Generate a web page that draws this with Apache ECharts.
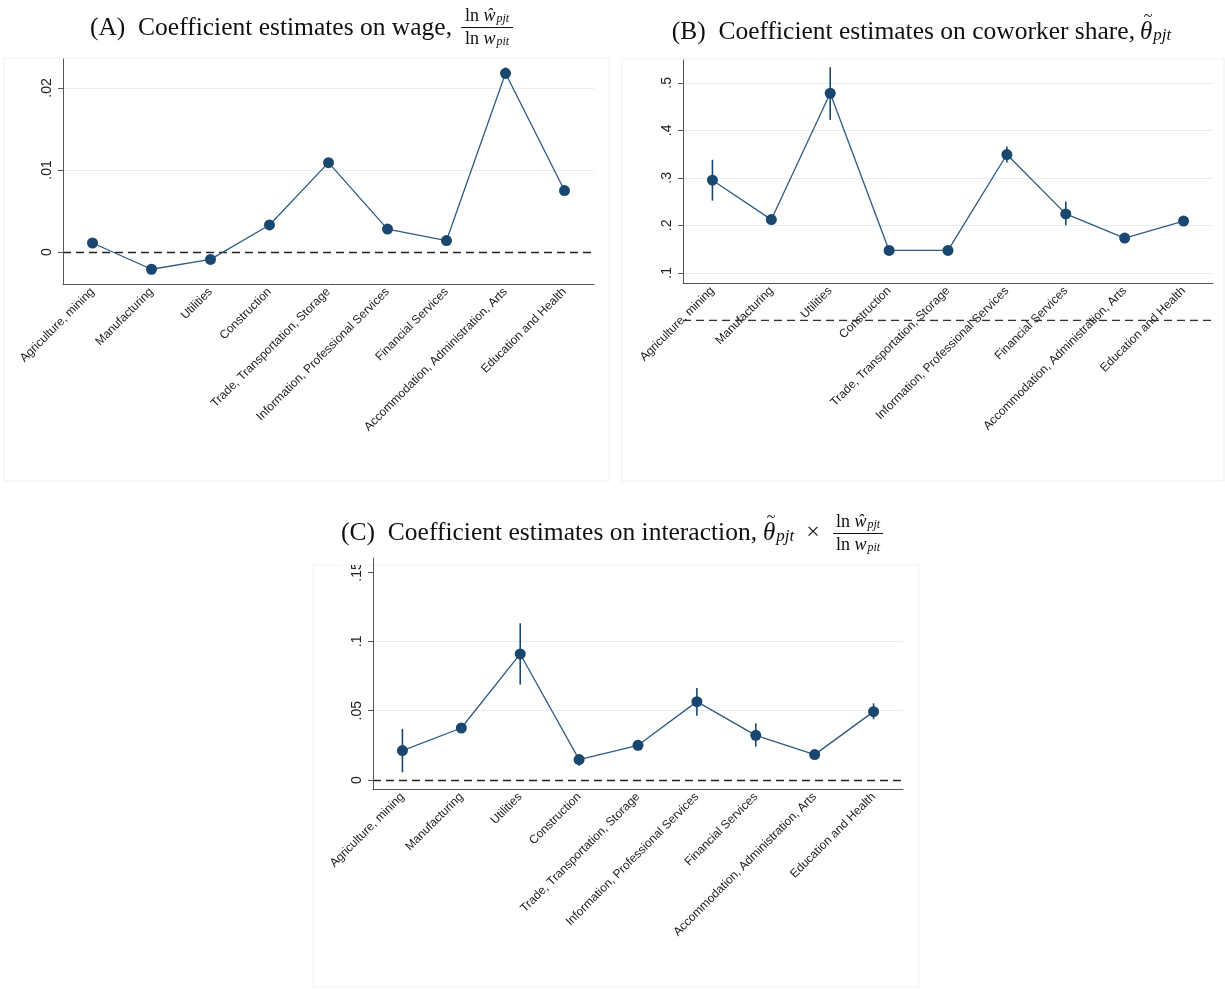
<!DOCTYPE html>
<html>
<head>
<meta charset="utf-8">
<script src="https://cdn.jsdelivr.net/npm/echarts@6/dist/echarts.min.js"></script>
<style>
html,body{margin:0;padding:0;background:#fff;}
#chart{width:1225px;height:990px;}
</style>
</head>
<body>
<div id="chart"></div>
<script>
// ---------- data ----------
const categories = ['Agriculture, mining', 'Manufacturing', 'Utilities', 'Construction',
  'Trade, Transportation, Storage', 'Information, Professional Services', 'Financial Services',
  'Accommodation, Administration, Arts', 'Education and Health'];

const wageEst = [0.0011, -0.0021, -0.0009, 0.0033, 0.0109, 0.0028, 0.0014, 0.0218, 0.0075];
const wageLo  = [0.0009, -0.0023, -0.0011, 0.0031, 0.0107, 0.0026, 0.0012, 0.0211, 0.0073];
const wageHi  = [0.0013, -0.0019, -0.0007, 0.0035, 0.0111, 0.0030, 0.0016, 0.0225, 0.0077];

const shareEst = [0.295, 0.212, 0.478, 0.147, 0.147, 0.349, 0.224, 0.173, 0.209];
const shareLo  = [0.252, 0.203, 0.422, 0.143, 0.143, 0.332, 0.200, 0.166, 0.200];
const shareHi  = [0.338, 0.220, 0.533, 0.151, 0.151, 0.366, 0.250, 0.180, 0.219];

const interEst = [0.0212, 0.0375, 0.0909, 0.0147, 0.0250, 0.0565, 0.0322, 0.0183, 0.0493];
const interLo  = [0.0055, 0.0340, 0.0688, 0.0103, 0.0226, 0.0464, 0.0240, 0.0159, 0.0438];
const interHi  = [0.0368, 0.0400, 0.1130, 0.0188, 0.0274, 0.0663, 0.0409, 0.0207, 0.0553];

const ticksA = [0, 0.01, 0.02];
const tickLabelsA = ['0', '.01', '.02'];
const gridA = [0.01, 0.02];
const ticksB = [0.1, 0.2, 0.3, 0.4, 0.5];
const tickLabelsB = ['.1', '.2', '.3', '.4', '.5'];
const gridB = [0.1, 0.2, 0.3, 0.4, 0.5];
const ticksC = [0, 0.05, 0.1, 0.15];
const tickLabelsC = ['0', '.05', '.1', '.15'];
const gridC = [0.05, 0.1];

const titleA = '(A)  Coefficient estimates on wage,';
const titleB = '(B)  Coefficient estimates on coworker share,';
const titleC = '(C)  Coefficient estimates on interaction,';

// ---------- styles ----------
const NAVY = '#1a476f';
const LINE = '#2f5a82';
const AXIS = '#555';
const GRIDC = '#e4eef0';
const SANS = '"Liberation Sans", Arial, sans-serif';
const SERIF = '"Liberation Serif", "Times New Roman", serif';

function labelFn(vals, labs) {
  return v => { const i = vals.findIndex(t => Math.abs(t - v) < 1e-9); return i >= 0 ? labs[i] : ''; };
}

function xAxisFor(gi) {
  return {
    type: 'category', gridIndex: gi, data: categories, boundaryGap: true,
    axisLine: { onZero: false, lineStyle: { color: AXIS, width: 1 } },
    axisTick: { alignWithLabel: true, length: 5, lineStyle: { color: AXIS } },
    axisLabel: { rotate: 45, interval: 0, fontFamily: SANS, fontSize: 12, color: '#222', margin: 6 },
    splitLine: { show: false }
  };
}
function yAxisFor(gi, min, max, ticks, labs) {
  return {
    type: 'value', gridIndex: gi, min: min, max: max,
    axisLine: { show: true, onZero: false, lineStyle: { color: AXIS, width: 1 } },
    axisTick: { show: true, length: 5, customValues: ticks, lineStyle: { color: AXIS } },
    axisLabel: { customValues: ticks, rotate: 90, fontFamily: SANS, fontSize: 14, color: '#222', margin: 9,
      formatter: labelFn(ticks, labs) },
    splitLine: { show: false }
  };
}
function errSeries(gi, lo, hi, grids, zeroLine) {
  const data = lo.map((l, i) => [i, l, hi[i]]);
  const ml = grids.map(v => ({ yAxis: v, lineStyle: { color: GRIDC, width: 1, type: 'solid' } }));
  if (zeroLine) ml.push({ yAxis: 0, lineStyle: { color: '#222', width: 1.4, type: [8, 5] } });
  return {
    type: 'custom', xAxisIndex: gi, yAxisIndex: gi, data: data, z: 1, silent: true,
    renderItem: (params, api) => {
      const x = api.value(0);
      const a = api.coord([x, api.value(1)]);
      const b = api.coord([x, api.value(2)]);
      return { type: 'line', shape: { x1: a[0], y1: a[1], x2: b[0], y2: b[1] },
        style: { stroke: NAVY, lineWidth: 1.6 } };
    },
    markLine: { silent: true, symbol: ['none', 'none'], label: { show: false }, animation: false, data: ml, z: 0 }
  };
}
function estSeries(gi, est) {
  return {
    type: 'line', xAxisIndex: gi, yAxisIndex: gi, data: est, z: 3,
    symbol: 'circle', symbolSize: 11, showAllSymbol: true,
    itemStyle: { color: NAVY }, lineStyle: { color: LINE, width: 1.3 }
  };
}

// ---------- titles (graphic text) ----------
function frac(cx, cy, w, num, den) {
  const richF = {
    r: { fontFamily: SERIF, fontSize: 18, fill: '#111' },
    i: { fontFamily: SERIF, fontSize: 18, fontStyle: 'italic', fill: '#111' },
    s: { fontFamily: SERIF, fontSize: 12, fontStyle: 'italic', fill: '#111', verticalAlign: 'bottom', padding: [0, 0, 0, 1] }
  };
  return [
    { type: 'text', x: cx, y: cy - 11, style: { text: num, rich: richF, align: 'center', verticalAlign: 'middle' } },
    { type: 'line', shape: { x1: cx - w / 2, y1: cy + 0.5, x2: cx + w / 2, y2: cy + 0.5 }, style: { stroke: '#111', lineWidth: 1 } },
    { type: 'text', x: cx, y: cy + 12, style: { text: den, rich: richF, align: 'center', verticalAlign: 'middle' } }
  ];
}
const mainFont = { fontFamily: SERIF, fontSize: 25.5, fill: '#111' };
const thetaRich = {
  i: { fontFamily: SERIF, fontSize: 25, fontStyle: 'italic', fill: '#111' },
  s: { fontFamily: SERIF, fontSize: 17, fontStyle: 'italic', fill: '#111', verticalAlign: 'bottom', padding: [0, 0, 0, 1] },
  r: { fontFamily: SERIF, fontSize: 24, fill: '#111' }
};
function thetaWithTilde(x, y, text) {
  return [
    { type: 'text', x: x, y: y, style: { text: text, rich: thetaRich, align: 'left', verticalAlign: 'middle' } },
    { type: 'text', x: x + 8, y: y - 15, style: { text: '~', fontFamily: SERIF, fontSize: 16, fill: '#111', align: 'center', verticalAlign: 'middle' } }
  ];
}

const graphics = [
  // panel region borders
  { type: 'rect', shape: { x: 4, y: 58, width: 605, height: 423 }, style: { fill: 'none', stroke: '#efefef', lineWidth: 1 }, z: -10 },
  { type: 'rect', shape: { x: 622, y: 59, width: 602, height: 422 }, style: { fill: 'none', stroke: '#efefef', lineWidth: 1 }, z: -10 },
  { type: 'rect', shape: { x: 313, y: 565, width: 606, height: 422 }, style: { fill: 'none', stroke: '#efefef', lineWidth: 1 }, z: -10 },
  // clip for the top label of panel C
  { type: 'rect', shape: { x: 338, y: 552, width: 30, height: 13 }, style: { fill: '#fff' }, z: 100 },
  // titles
  { type: 'text', x: 452, y: 28, style: Object.assign({ text: titleA, align: 'right', verticalAlign: 'middle' }, mainFont) },
  { type: 'text', x: 1135, y: 32, style: Object.assign({ text: titleB, align: 'right', verticalAlign: 'middle' }, mainFont) },
  { type: 'text', x: 757, y: 533, style: Object.assign({ text: titleC, align: 'right', verticalAlign: 'middle' }, mainFont) }
].concat(
  thetaWithTilde(1140, 32, '{i|θ}{s|pjt}'),
  thetaWithTilde(763, 533, '{i|θ}{s|pjt}{r|  ×}'),
  frac(487, 27, 52, '{r|ln }{i|ŵ}{s|pjt}', '{r|ln }{i|w}{s|pit}'),
  frac(858, 533, 50, '{r|ln }{i|ŵ}{s|pjt}', '{r|ln }{i|w}{s|pit}')
);

// ---------- option ----------
const option = {
  animation: false,
  backgroundColor: '#fff',
  grid: [
    { left: 63, top: 59, width: 531, height: 225 },
    { left: 683, top: 60, width: 530, height: 223 },
    { left: 373, top: 558, width: 530, height: 231 },
    { left: 683, top: 60, width: 530, height: 260.5 }
  ],
  xAxis: [
    xAxisFor(0), xAxisFor(1), xAxisFor(2),
    { type: 'value', gridIndex: 3, min: 0, max: 1, show: false }
  ],
  yAxis: [
    yAxisFor(0, -0.0039, 0.02354, ticksA, tickLabelsA),
    yAxisFor(1, 0.0785, 0.548, ticksB, tickLabelsB),
    yAxisFor(2, -0.0065, 0.1601, ticksC, tickLabelsC),
    { type: 'value', gridIndex: 3, min: 0, max: 0.548, show: false }
  ],
  series: [
    errSeries(0, wageLo, wageHi, gridA, true),
    estSeries(0, wageEst),
    errSeries(1, shareLo, shareHi, gridB, false),
    estSeries(1, shareEst),
    errSeries(2, interLo, interHi, gridC, true),
    estSeries(2, interEst),
    { type: 'line', xAxisIndex: 3, yAxisIndex: 3, data: [[0, 0], [1, 0]], symbol: 'none', z: 5, silent: true,
      lineStyle: { color: '#333', width: 1.4, type: [8, 5] } }
  ],
  graphic: graphics
};

const chart = echarts.init(document.getElementById('chart'), null, { renderer: 'canvas' });
chart.setOption(option);
</script>
</body>
</html>
